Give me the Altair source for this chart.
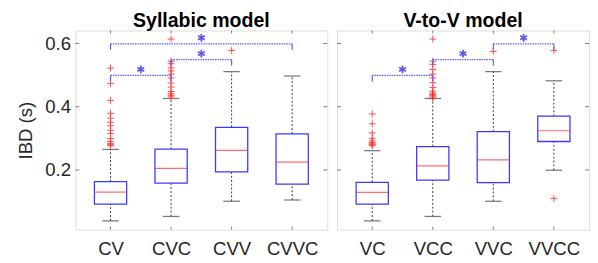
import altair as alt
import pandas as pd

# ---------------- data ----------------
syl_cats = ["CV", "CVC", "CVV", "CVVC"]
syl_low = [0.039, 0.053, 0.101, 0.105]
syl_q1 = [0.092, 0.158, 0.194, 0.155]
syl_med = [0.130, 0.205, 0.262, 0.225]
syl_q3 = [0.163, 0.266, 0.335, 0.314]
syl_high = [0.265, 0.426, 0.511, 0.497]
syl_out = {
    "CV": [0.522, 0.474, 0.420, 0.379, 0.364, 0.351, 0.340, 0.326, 0.315, 0.299, 0.290, 0.284, 0.280, 0.277],
    "CVC": [0.614, 0.544, 0.536, 0.523, 0.513, 0.503, 0.491, 0.475, 0.462, 0.448, 0.441, 0.436, 0.431],
    "CVV": [0.578],
    "CVVC": [],
}
syl_br_from = [0, 1, 0]
syl_br_to = [1, 2, 3]
syl_br_y = [0.499, 0.549, 0.599]

vv_cats = ["VC", "VCC", "VVC", "VVCC"]
vv_low = [0.039, 0.053, 0.101, 0.199]
vv_q1 = [0.092, 0.168, 0.160, 0.290]
vv_med = [0.129, 0.213, 0.232, 0.324]
vv_q3 = [0.161, 0.274, 0.321, 0.370]
vv_high = [0.261, 0.426, 0.511, 0.482]
vv_out = {
    "VC": [0.377, 0.346, 0.317, 0.300, 0.292, 0.287, 0.283, 0.280, 0.277],
    "VCC": [0.614, 0.544, 0.534, 0.518, 0.503, 0.491, 0.476, 0.461, 0.449, 0.443, 0.439, 0.435, 0.431, 0.427],
    "VVC": [0.575],
    "VVCC": [0.578, 0.110],
}
vv_br_from = [0, 1, 2]
vv_br_to = [1, 2, 3]
vv_br_y = [0.499, 0.549, 0.599]

bracket_drop = 0.019
star_lift = 0.019
y_ticks = [0.2, 0.4, 0.6]
y_domain = [0.011, 0.641]

FONT = "Liberation Sans"
W, H = 258, 204


def panel(title, cats, low, q1, med, q3, high, outs, bf, bt, by, show_y):
    idx = list(range(len(cats)))
    stats = pd.DataFrame({"i": idx, "low": low, "q1": q1, "med": med, "q3": q3, "high": high})
    orows = [{"i": cats.index(c), "v": v} for c in cats for v in outs[c]]
    odf = pd.DataFrame(orows if orows else [{"i": 0, "v": None}])
    br = pd.DataFrame({"a": bf, "b": bt, "y": by})
    br["ylow"] = br["y"] - bracket_drop
    br["mid"] = (br["a"] + br["b"]) / 2
    br["ys"] = br["y"] + star_lift
    ends = pd.DataFrame(
        [{"x": r.a, "y": r.y, "ylow": r.ylow} for r in br.itertuples()]
        + [{"x": r.b, "y": r.y, "ylow": r.ylow} for r in br.itertuples()]
    )

    label_expr = "[" + ",".join("'%s'" % c for c in cats) + "][datum.value]"
    xscale = alt.Scale(domain=[-0.5, len(cats) - 0.5], nice=False, zero=False)
    yscale = alt.Scale(domain=y_domain, nice=False, zero=False)
    xaxis = alt.Axis(values=idx, labelExpr=label_expr, title=None, grid=False, ticks=False,
                     domain=False, labelFontSize=19, labelFont=FONT, labelColor="#262626",
                     labelPadding=10, labelFlush=False)
    if show_y:
        yaxis = alt.Axis(values=y_ticks, title="IBD (s)", grid=False, ticks=False, domain=False,
                         labelFontSize=19, labelFont=FONT, labelColor="#262626", labelPadding=5,
                         titleFontSize=19, titleFont=FONT, titleFontWeight="normal",
                         titleColor="#262626", titlePadding=10, format=".1f")
    else:
        yaxis = None

    X = alt.X("i:Q", scale=xscale, axis=xaxis)
    base = alt.Chart(stats)

    whisk_lo = base.mark_rule(color="#333333", strokeDash=[2, 2], strokeWidth=1).encode(
        x=X, y=alt.Y("low:Q", scale=yscale, axis=yaxis), y2="q1:Q")
    whisk_hi = base.mark_rule(color="#333333", strokeDash=[2, 2], strokeWidth=1).encode(
        x="i:Q", y="q3:Q", y2="high:Q")
    cap_lo = base.mark_tick(orient="horizontal", size=17, thickness=1.3, color="#444444").encode(
        x="i:Q", y="low:Q")
    cap_hi = base.mark_tick(orient="horizontal", size=17, thickness=1.3, color="#444444").encode(
        x="i:Q", y="high:Q")
    box = base.mark_bar(size=33, fillOpacity=0, stroke="#3a3aff", strokeWidth=1.3).encode(
        x="i:Q", y="q1:Q", y2="q3:Q")
    median = base.mark_tick(orient="horizontal", size=33, thickness=1.2, color="#ff3030").encode(
        x="i:Q", y="med:Q")
    outl = alt.Chart(odf).mark_point(shape="M-1,0L1,0M0,-1L0,1", size=49, filled=False,
                                     stroke="#ff2a2a", strokeWidth=1, opacity=0.85).encode(
        x="i:Q", y="v:Q")

    br_h = alt.Chart(br).mark_rule(color="#5a5aff", strokeDash=[1.5, 1], strokeWidth=1.2).encode(
        x="a:Q", x2="b:Q", y="y:Q")
    br_v = alt.Chart(ends).mark_rule(color="#5a5aff", strokeWidth=1.2).encode(
        x="x:Q", y="y:Q", y2="ylow:Q")
    star = alt.Chart(br).mark_point(
        shape="M0,-1L0,1M-0.87,-0.5L0.87,0.5M-0.87,0.5L0.87,-0.5", size=64, filled=False,
        stroke="#1515e0", strokeWidth=1.8).encode(x="mid:Q", y="ys:Q")

    tdf = pd.DataFrame({"t": y_ticks})
    tick_l = alt.Chart(tdf).mark_rule(color="#777777").encode(
        y="t:Q", x=alt.value(0), x2=alt.value(4))
    tick_r = alt.Chart(tdf).mark_rule(color="#777777").encode(
        y="t:Q", x=alt.value(W - 4), x2=alt.value(W))
    xdf = pd.DataFrame({"i": idx})
    tick_t = alt.Chart(xdf).mark_rule(color="#777777").encode(
        x="i:Q", y=alt.value(0), y2=alt.value(3))
    tick_b = alt.Chart(xdf).mark_rule(color="#777777").encode(
        x="i:Q", y=alt.value(H - 3), y2=alt.value(H))

    return alt.layer(
        whisk_lo, whisk_hi, cap_lo, cap_hi, box, median, outl,
        br_h, br_v, star, tick_l, tick_r, tick_t, tick_b,
    ).properties(
        width=W, height=H,
        title=alt.TitleParams(title, fontSize=20, font=FONT, fontWeight="bold", color="#000000",
                              offset=-1, anchor="middle"),
    )


left = panel("Syllabic model", syl_cats, syl_low, syl_q1, syl_med, syl_q3, syl_high, syl_out,
             syl_br_from, syl_br_to, syl_br_y, True)
right = panel("V-to-V model", vv_cats, vv_low, vv_q1, vv_med, vv_q3, vv_high, vv_out,
              vv_br_from, vv_br_to, vv_br_y, False)

chart = alt.hconcat(left, right, spacing=8).properties(
    padding={"left": 8, "top": 0, "right": 0, "bottom": 0}
).configure_view(stroke="#8c8c8c", strokeWidth=1.2).configure(background="white")

chart.save("out.html", embed_options={"renderer": "svg", "actions": False})
